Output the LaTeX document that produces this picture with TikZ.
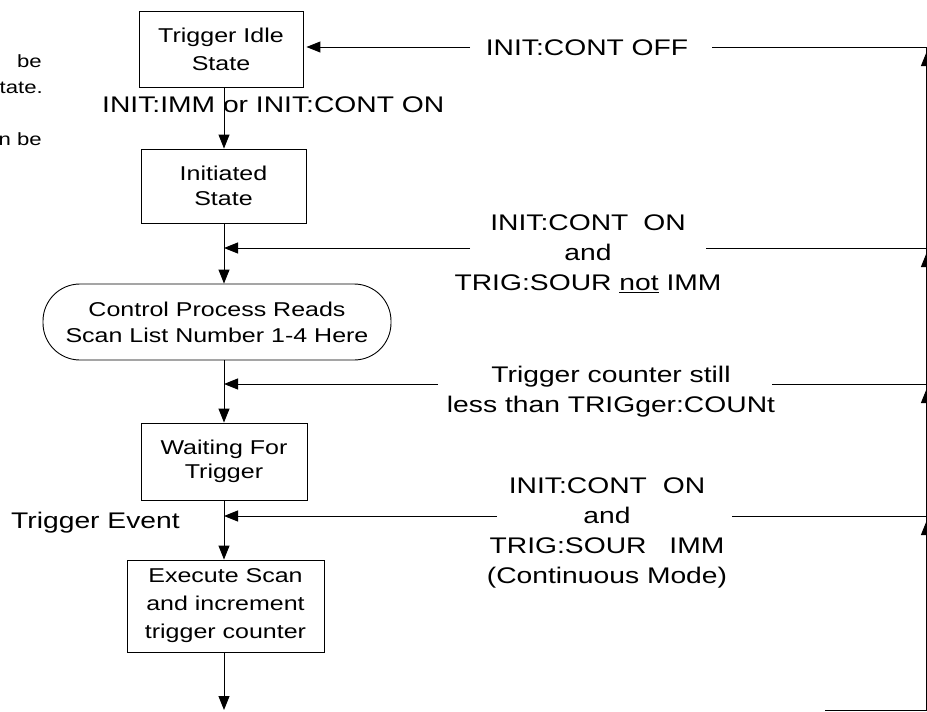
\documentclass[tikz,border=0pt]{standalone}
\usepackage{fontspec}
\setmainfont[FakeStretch=1.25]{Liberation Sans}
\usetikzlibrary{arrows.meta,calc}
\tikzset{
  box/.style={draw, line width=0.9pt, align=center, inner sep=0pt},
  lbl/.style={align=center, inner sep=0pt, font=\fontsize{22.6}{30}\selectfont},
  frag/.style={inner sep=0pt, font=\fontsize{17.7}{26}\selectfont},
  conn/.style={line width=1pt},
  arr/.style={line width=1pt, -{Triangle[length=14pt,width=11pt]}},
}
\begin{document}
\begin{tikzpicture}[x=1pt,y=-1pt]
\clip (0,0) rectangle (927,712);
% left-edge text fragments
\node[frag, anchor=base east] (f1) at (42,67) {be};
\node[frag, anchor=base east] (f2) at (43,93) {tate.};
\node[frag, anchor=base east] (f3) at (42,145) {n be};
% main boxes
\node[box, minimum width=164pt, minimum height=76pt, font=\fontsize{20}{28}\selectfont] (b1) at (221,49) {Trigger Idle\\State};
\node[box, minimum width=165pt, minimum height=74pt, font=\fontsize{20}{25}\selectfont] (b2) at (223.5,186) {Initiated\\State};
\node[box, minimum width=348pt, minimum height=76pt, rounded corners=37pt, font=\fontsize{20}{26}\selectfont] (ell) at (217,322) {Control Process Reads\\Scan List Number 1-4 Here};
\node[box, minimum width=166pt, minimum height=77pt, font=\fontsize{20}{24}\selectfont] (b3) at (224,461.5) {Waiting For\\Trigger};
\node[box, minimum width=197pt, minimum height=92pt, font=\fontsize{20}{28}\selectfont] (b4) at (225.5,606) {Execute Scan\\and increment\\trigger counter};
% labels
\node[lbl, anchor=base] (l1) at (587,55) {INIT:CONT OFF};
\node[lbl, anchor=base west] (l0) at (102,112) {INIT:IMM or INIT:CONT ON};
\node[lbl] (l2) at (588,254) {INIT:CONT\hspace{7pt} ON\\and\\TRIG:SOUR \underline{not} IMM};
\node[lbl] (l3) at (611,392) {Trigger counter still\\less than TRIGger:COUNt};
\node[lbl] (l4) at (607,533) {INIT:CONT\hspace{8pt} ON\\and\\TRIG:SOUR\hspace{15pt} IMM\\(Continuous Mode)};
\node[lbl, anchor=base west] (l5) at (11,528) {Trigger Event};
% spine
\coordinate (sp) at (224,0);
\coordinate (end) at (224,710);
\draw[arr] (b1.south -| sp) -- (b2.north -| sp);
\draw[arr] (b2.south -| sp) -- (ell.north -| sp);
\draw[arr] (ell.south -| sp) -- (b3.north -| sp);
\draw[arr] (b3.south -| sp) -- (b4.north -| sp);
\draw[arr] (b4.south -| sp) -- (end);
% right feedback line
\coordinate (r1) at (926.5,47);
\coordinate (r2) at (926.5,248);
\coordinate (r3) at (926.5,384);
\coordinate (r4) at (926.5,516);
\coordinate (rb) at (926.5,710);
\coordinate (bl) at (825,710);
\draw[conn] (bl) -- (rb) -- (r1);
\foreach \r in {r1,r2,r3,r4}{
  \draw[arr] ($(\r)+(0,20)$) -- ($(\r)+(0,5)$);
}
% feedback branches
\coordinate (r1a) at (712,47);  \coordinate (r1b) at (470,47);
\coordinate (r2a) at (706,248); \coordinate (r2b) at (470,248);
\coordinate (r3a) at (772,384); \coordinate (r3b) at (438,384);
\coordinate (r4a) at (732,516); \coordinate (r4b) at (497,516);
\draw[conn] (r1) -- (r1a);
\draw[arr] (r1b) -- ([xshift=3pt]b1.east |- r1b);
\draw[conn] (r2) -- (r2a);
\draw[arr] (r2b) -- (sp |- r2b);
\draw[conn] (r3) -- (r3a);
\draw[arr] (r3b) -- (sp |- r3b);
\draw[conn] (r4) -- (r4a);
\draw[arr] (r4b) -- (sp |- r4b);
\end{tikzpicture}
\end{document}
